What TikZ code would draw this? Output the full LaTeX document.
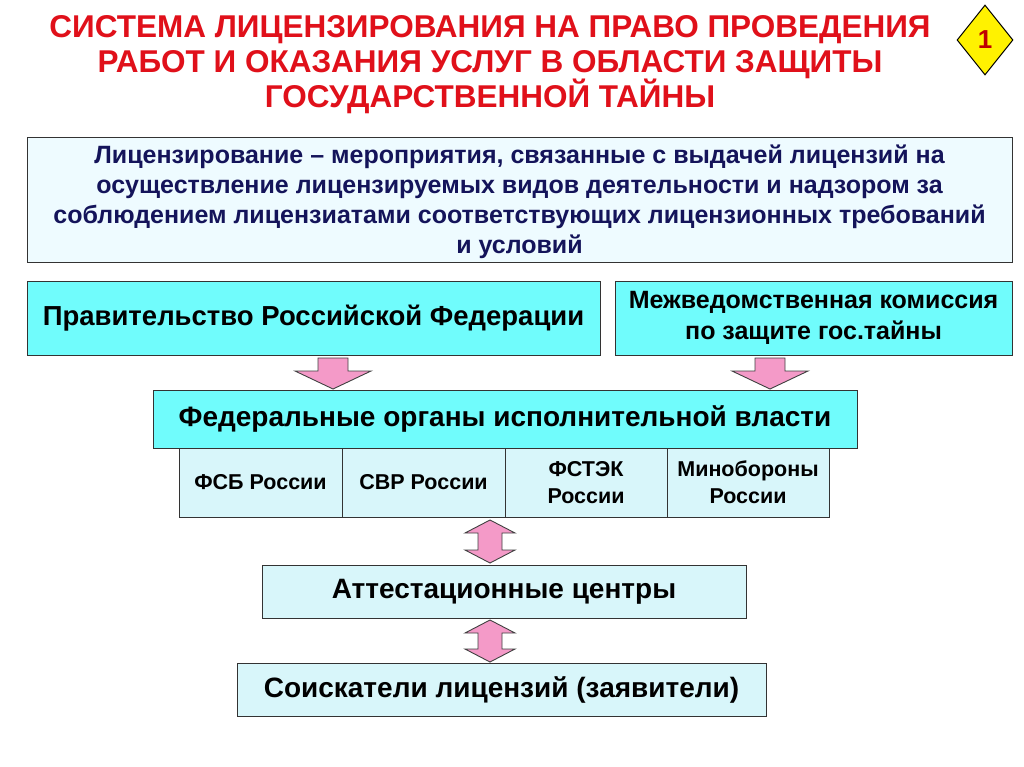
\documentclass[tikz,border=0pt]{standalone}
\usepackage{fontspec}
\setmainfont{Liberation Sans}
\usetikzlibrary{shapes.geometric}
\definecolor{cyanbox}{HTML}{70FCFC}
\definecolor{lightbox}{HTML}{D8F6FA}
\definecolor{defbox}{HTML}{EEFBFF}
\definecolor{navy}{HTML}{14145A}
\definecolor{pinkarr}{HTML}{F49AC8}
\definecolor{titlered}{HTML}{E0101A}
\tikzset{
  box/.style={draw=black!80, line width=0.9pt, inner sep=2pt, align=center, font=\bfseries},
  arr/.style={draw=black!75, line width=0.9pt, fill=pinkarr},
}
\newcommand{\downarr}[2]{% x, ytop
  \draw[arr] (#1-15,#2) -- (#1+15,#2) -- (#1+15,#2+13) -- (#1+38,#2+13) -- (#1,#2+31) -- (#1-38,#2+13) -- (#1-15,#2+13) -- cycle;}
\newcommand{\dblarr}[3]{% x, ytop, ybot
  \draw[arr] (#1,#2) -- (#1+25,#2+13) -- (#1+12,#2+13) -- (#1+12,#3-13) -- (#1+25,#3-13) -- (#1,#3) -- (#1-25,#3-13) -- (#1-12,#3-13) -- (#1-12,#2+13) -- (#1-25,#2+13) -- cycle;}
\begin{document}
\begin{tikzpicture}[x=1pt,y=-1pt]
\useasboundingbox[fill=white] (0,0) rectangle (1024,767);
% title
\node[font=\bfseries\fontsize{31.5}{35}\selectfont, text=titlered, align=center] (title) at (490,65)
 {СИСТЕМА ЛИЦЕНЗИРОВАНИЯ НА ПРАВО ПРОВЕДЕНИЯ\\РАБОТ И ОКАЗАНИЯ УСЛУГ В ОБЛАСТИ ЗАЩИТЫ\\ГОСУДАРСТВЕННОЙ ТАЙНЫ};
\node[diamond, draw=black, line width=1pt, fill=yellow, minimum width=56pt, minimum height=70pt, inner sep=0pt, text=red!75!black, font=\bfseries\fontsize{26}{26}\selectfont] (one) at (985,40) {1};
% definition
\draw[box, fill=defbox] (27,137) rectangle (1012,262);
\node[font=\bfseries\fontsize{25}{30}\selectfont, text=navy, align=center] (def) at (519.5,202)
 {Лицензирование – мероприятия, связанные с выдачей лицензий на\\осуществление лицензируемых видов деятельности и надзором за\\соблюдением лицензиатами соответствующих лицензионных требований\\и условий};
% top row
\node[box, fill=cyanbox, minimum width=573pt, minimum height=74pt, font=\bfseries\fontsize{27.5}{30}\selectfont] (gov) at (313.5,318) {Правительство Российской Федерации};
\node[box, fill=cyanbox, minimum width=397pt, minimum height=74pt, font=\bfseries\fontsize{25}{31}\selectfont] (mvk) at (813.5,318) {Межведомственная комиссия\\по защите гос.тайны};
\downarr{333}{358}
\downarr{770}{358}
% federal
\node[box, fill=cyanbox, minimum width=704pt, minimum height=58pt, font=\bfseries\fontsize{28}{30}\selectfont] (fed) at (505,419) {Федеральные органы исполнительной власти};
\node[box, fill=lightbox, minimum width=163pt, minimum height=69pt, font=\bfseries\fontsize{21.5}{27}\selectfont] (fsb) at (260.5,482.5) {ФСБ России};
\node[box, fill=lightbox, minimum width=163pt, minimum height=69pt, font=\bfseries\fontsize{21.5}{27}\selectfont] (svr) at (423.5,482.5) {СВР России};
\node[box, fill=lightbox, minimum width=162pt, minimum height=69pt, font=\bfseries\fontsize{21.5}{27}\selectfont] (fstek) at (586,482.5) {ФСТЭК\\России};
\node[box, fill=lightbox, minimum width=162pt, minimum height=69pt, font=\bfseries\fontsize{21.5}{27}\selectfont] (mo) at (748,482.5) {Минобороны\\России};
\dblarr{490}{520}{563}
\node[box, fill=lightbox, minimum width=484pt, minimum height=53pt, font=\bfseries\fontsize{28}{30}\selectfont] (att) at (504,591.5) {Аттестационные центры};
\dblarr{490}{620}{662}
\node[box, fill=lightbox, minimum width=529pt, minimum height=53pt, font=\bfseries\fontsize{28}{30}\selectfont] (soisk) at (501.5,689.5) {Соискатели лицензий (заявители)};
\end{tikzpicture}
\end{document}
